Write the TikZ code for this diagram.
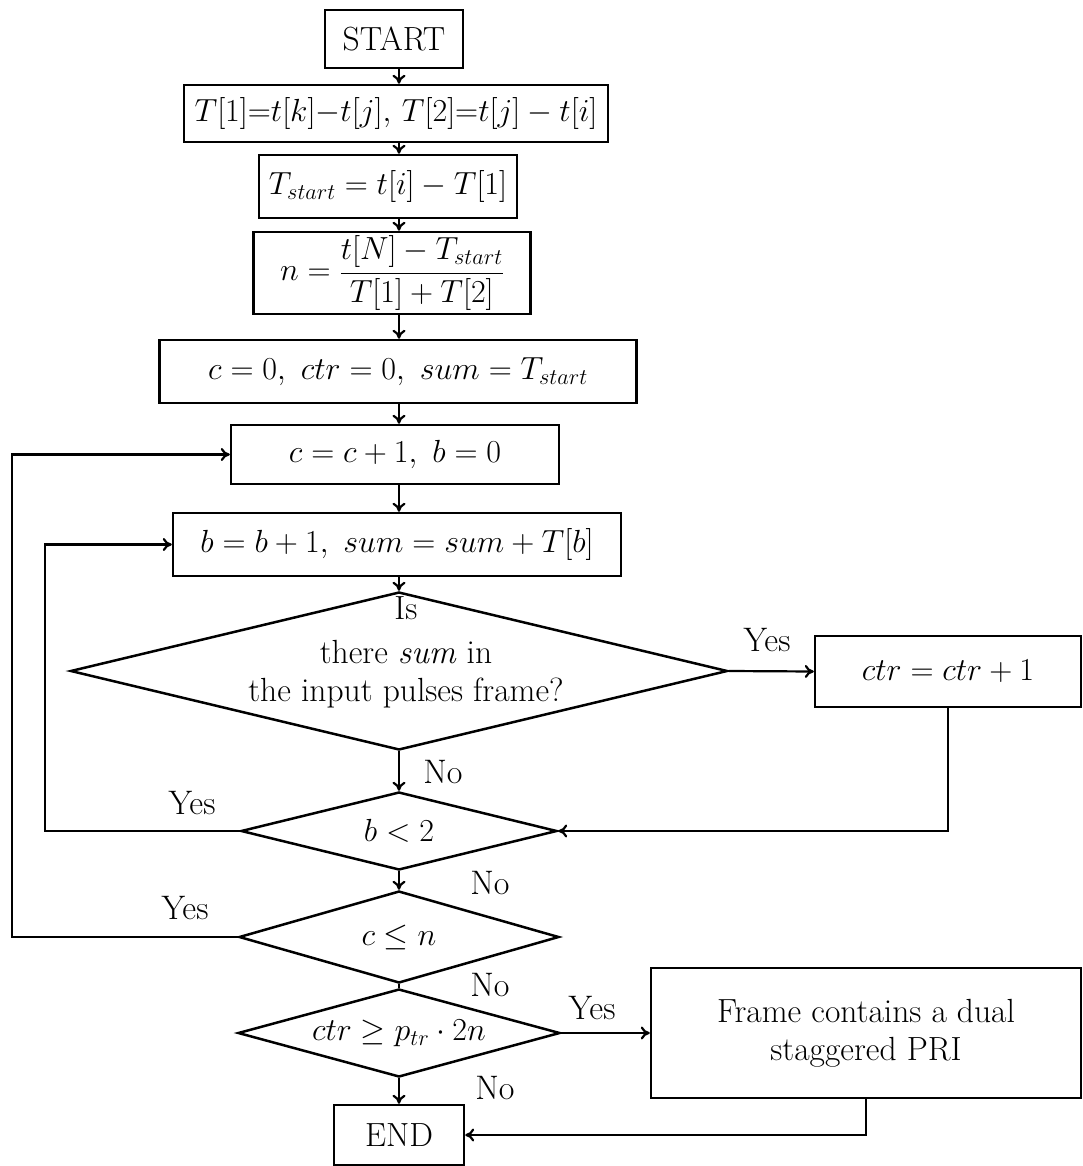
\RequirePackage{fix-cm}
\documentclass[tikz,border=0pt]{standalone}
\usetikzlibrary{arrows.meta,shapes.geometric,calc}
\tikzset{
  every node/.style={font=\fontsize{32}{38}\selectfont},
  txt/.style={font=\fontsize{33.5}{38}\selectfont},
  box/.style={draw, line width=2.5pt, inner sep=0pt, align=center},
  dia/.style={draw, shape=diamond, line width=2.5pt, inner sep=0pt},
  ln/.style={line width=2.2pt},
  arr/.style={line width=2.2pt, -{To[length=9pt,width=13pt]}},
  lab/.style={font=\fontsize{34}{38}\selectfont, inner sep=0pt}
}
\begin{document}
\begin{tikzpicture}[x=1pt,y=-1pt]
\useasboundingbox (0,0) rectangle (1083,1166);
\coordinate (ax) at (399,0);
\coordinate (loopA) at (45,0);
\coordinate (loopB) at (12,0);

\node[box, txt, minimum width=138, minimum height=58] (start) at (394,39) {START};
\node[box, minimum width=424, minimum height=57] (t12) at (396,113.5)
  {$T[1]{=}t[k]{-}t[j],\,T[2]{=}t[j]-t[i]$};
\node[box, minimum width=258, minimum height=63] (ts) at (388,186.5)
  {$T_{start}=t[i]-T[1]$};
\node[box, minimum width=277, minimum height=82] (nn) at (392,273)
  {$n=\displaystyle\frac{t[N]-T_{start}}{T[1]+T[2]}$};
\node[box, minimum width=477, minimum height=63] (init) at (398,371.5)
  {$c=0,\ ctr=0,\ sum=T_{start}$};
\node[box, minimum width=328, minimum height=59] (cinc) at (395,454.5)
  {$c=c+1,\ b=0$};
\node[box, minimum width=448, minimum height=63] (binc) at (397,544.5)
  {$b=b+1,\ sum=sum+T[b]$};

\node[dia, minimum width=657, minimum height=158] (d1) at (399,671) {};
\node[txt, align=center, inner sep=0pt] (d1t) at (406,652)
  {Is\\[6pt]there \textit{sum} in\\the input pulses frame?};
\node[box, minimum width=266, minimum height=71] (ctr) at (948,671.5) {$ctr=ctr+1$};

\node[dia, minimum width=316, minimum height=78, label={center:$b<2$}] (d2) at (399,831) {};
\node[dia, minimum width=320, minimum height=92, label={center:$c\le n$}] (d3) at (399,937) {};
\node[dia, minimum width=322, minimum height=88, label={center:$ctr\ge p_{tr}\cdot 2n$}] (d4) at (399,1033) {};

\node[box, txt, minimum width=430, minimum height=130] (frame) at (866,1033)
  {Frame contains a dual\\staggered PRI};
\node[box, txt, minimum width=130, minimum height=60] (end) at (399,1135) {END};

% main axis
\draw[arr] (start.south -| ax) -- (ax |- t12.north);
\draw[arr] (t12.south -| ax) -- (ax |- ts.north);
\draw[arr] (ts.south -| ax) -- (ax |- nn.north);
\draw[arr] (nn.south -| ax) -- (ax |- init.north);
\draw[arr] (init.south -| ax) -- (ax |- cinc.north);
\draw[arr] (cinc.south -| ax) -- (ax |- binc.north);
\draw[arr] (binc.south -| ax) -- (d1.north);
\draw[arr] (d1.east) -- (ctr.west);
\draw[arr] (d1.south) -- (d2.north);
\draw[arr] (ctr.south) -- (ctr.south |- d2.east) -- (d2.east);
\draw[arr] (d2.west) -- (loopA |- d2.west) -- (loopA |- binc.west) -- (binc.west);
\draw[arr] (d2.south) -- (d3.north);
\draw[arr] (d3.west) -- (loopB |- d3.west) -- (loopB |- cinc.west) -- (cinc.west);
\draw[ln] (d3.south) -- (d4.north);
\draw[arr] (d4.east) -- (frame.west);
\draw[arr] (d4.south) -- (end.north);
\draw[arr] (frame.south) -- (frame.south |- end.east) -- (end.east);

% labels
\node[lab] (y1) at (767,640) {Yes};
\node[lab] (n1) at (443,772) {No};
\node[lab] (y2) at (192,803) {Yes};
\node[lab] (n2) at (490,883) {No};
\node[lab] (y3) at (185,908) {Yes};
\node[lab] (n3) at (490,985) {No};
\node[lab] (y4) at (592,1008) {Yes};
\node[lab] (n4) at (495,1088) {No};
\end{tikzpicture}
\end{document}
